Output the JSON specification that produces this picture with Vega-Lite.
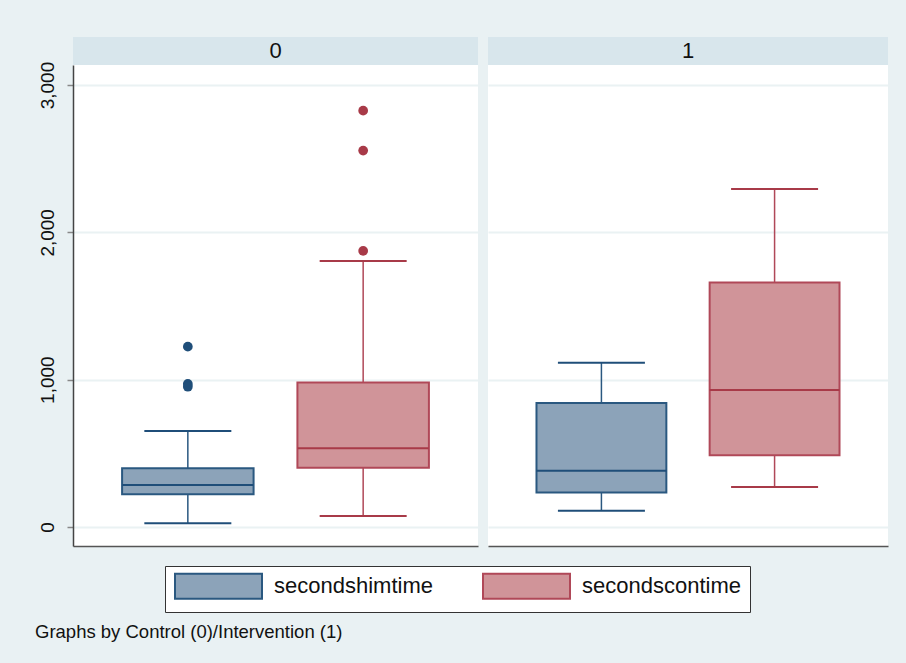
{
  "$schema": "https://vega.github.io/schema/vega-lite/v6.json",
  "background": "#E9F1F3",
  "padding": {"left": 35, "top": 37, "right": 18, "bottom": 22},
  "datasets": {
    "boxes": [
      {"panel": "0", "var": "secondshimtime", "lower": 25, "q1": 222, "median": 285, "q3": 398, "upper": 652},
      {"panel": "0", "var": "secondscontime", "lower": 75, "q1": 403, "median": 534, "q3": 980, "upper": 1806},
      {"panel": "1", "var": "secondshimtime", "lower": 111, "q1": 235, "median": 382, "q3": 842, "upper": 1115},
      {"panel": "1", "var": "secondscontime", "lower": 272, "q1": 487, "median": 930, "q3": 1659, "upper": 2295}
    ],
    "outliers": [
      {"panel": "0", "var": "secondshimtime", "value": 1224},
      {"panel": "0", "var": "secondshimtime", "value": 971},
      {"panel": "0", "var": "secondshimtime", "value": 952},
      {"panel": "0", "var": "secondscontime", "value": 2826},
      {"panel": "0", "var": "secondscontime", "value": 2555},
      {"panel": "0", "var": "secondscontime", "value": 1874}
    ]
  },
  "title": {
    "text": "Graphs by Control (0)/Intervention (1)",
    "orient": "bottom",
    "anchor": "start",
    "frame": "group",
    "fontSize": 18.5,
    "fontWeight": "normal",
    "color": "#111111",
    "offset": 10,
    "dx": -38
  },
  "spacing": 10,
  "hconcat": [
    {
      "spacing": 0,
      "bounds": "flush",
      "vconcat": [
        {
          "data": {"values": [{"panel": "0"}]},
          "width": 405,
          "height": 28,
          "view": {"fill": "#D8E6EC", "stroke": null},
          "mark": {"type": "text", "fontSize": 22, "color": "#111111"},
          "encoding": {"text": {"field": "panel", "type": "nominal"}}
        },
        {
          "width": 405,
          "height": 481,
          "view": {"fill": "white", "stroke": null},
          "encoding": {
            "x": {"field": "var", "type": "nominal", "sort": null,
              "scale": {"domain": ["secondshimtime", "secondscontime"], "paddingInner": 0.25, "paddingOuter": 0.28},
              "axis": {"labels": false, "ticks": false, "title": null, "grid": false, "domain": true, "domainColor": "#555555", "domainWidth": 1.5}}
          },
          "layer": [
            {
              "data": {"name": "boxes"},
              "transform": [{"filter": "datum.panel == '0'"}],
              "mark": {"type": "rule", "strokeWidth": 1.5},
              "encoding": {
                "y": {"field": "lower", "type": "quantitative", "scale": {"domain": [-129, 3136], "nice": false, "zero": false},
                  "axis": {"title": null, "values": [0, 1000, 2000, 3000], "format": ",d", "labelAngle": -90, "labelAlign": "center", "labelBaseline": "alphabetic", "labelPadding": 14, "labelFontSize": 19, "labelColor": "#111111", "tickSize": 6, "tickColor": "#888888", "tickWidth": 1.5, "grid": true, "gridColor": "#EAF2F3", "gridWidth": 2, "domainColor": "#444444", "domainWidth": 1.5}},
                "y2": {"field": "upper"},
                "stroke": {"field": "var", "type": "nominal", "scale": {"domain": ["secondshimtime", "secondscontime"], "range": ["#2A5880", "#B04858"]}, "legend": {"title": null}}
              }
            },
            {
              "data": {"name": "boxes"},
              "transform": [{"filter": "datum.panel == '0'"}],
              "mark": {"type": "bar", "strokeWidth": 2, "opacity": 1},
              "encoding": {
                "y": {"field": "q1", "type": "quantitative", "scale": {"domain": [-129, 3136], "nice": false, "zero": false},
                  "axis": {"title": null, "values": [0, 1000, 2000, 3000], "format": ",d", "labelAngle": -90, "labelAlign": "center", "labelBaseline": "alphabetic", "labelPadding": 14, "labelFontSize": 19, "labelColor": "#111111", "tickSize": 6, "tickColor": "#888888", "tickWidth": 1.5, "grid": true, "gridColor": "#EAF2F3", "gridWidth": 2, "domainColor": "#444444", "domainWidth": 1.5}},
                "y2": {"field": "q3"},
                "fill": {"field": "var", "type": "nominal", "scale": {"domain": ["secondshimtime", "secondscontime"], "range": ["#8CA3B9", "#D09499"]}, "legend": {"title": null}},
                "stroke": {"field": "var", "type": "nominal", "scale": {"domain": ["secondshimtime", "secondscontime"], "range": ["#2A5880", "#B04858"]}, "legend": {"title": null}}
              }
            },
            {
              "data": {"name": "boxes"},
              "transform": [{"filter": "datum.panel == '0'"}],
              "mark": {"type": "tick", "thickness": 2, "size": 131, "opacity": 1},
              "encoding": {
                "y": {"field": "median", "type": "quantitative", "scale": {"domain": [-129, 3136], "nice": false, "zero": false},
                  "axis": {"title": null, "values": [0, 1000, 2000, 3000], "format": ",d", "labelAngle": -90, "labelAlign": "center", "labelBaseline": "alphabetic", "labelPadding": 14, "labelFontSize": 19, "labelColor": "#111111", "tickSize": 6, "tickColor": "#888888", "tickWidth": 1.5, "grid": true, "gridColor": "#EAF2F3", "gridWidth": 2, "domainColor": "#444444", "domainWidth": 1.5}},
                "color": {"field": "var", "type": "nominal", "scale": {"domain": ["secondshimtime", "secondscontime"], "range": ["#1F4E79", "#A83A48"]}, "legend": null}
              }
            },
            {
              "data": {"name": "boxes"},
              "transform": [{"filter": "datum.panel == '0'"}],
              "mark": {"type": "tick", "thickness": 2, "size": 87, "opacity": 1},
              "encoding": {
                "y": {"field": "lower", "type": "quantitative", "scale": {"domain": [-129, 3136], "nice": false, "zero": false},
                  "axis": {"title": null, "values": [0, 1000, 2000, 3000], "format": ",d", "labelAngle": -90, "labelAlign": "center", "labelBaseline": "alphabetic", "labelPadding": 14, "labelFontSize": 19, "labelColor": "#111111", "tickSize": 6, "tickColor": "#888888", "tickWidth": 1.5, "grid": true, "gridColor": "#EAF2F3", "gridWidth": 2, "domainColor": "#444444", "domainWidth": 1.5}},
                "color": {"field": "var", "type": "nominal", "scale": {"domain": ["secondshimtime", "secondscontime"], "range": ["#1F4E79", "#A83A48"]}, "legend": null}
              }
            },
            {
              "data": {"name": "boxes"},
              "transform": [{"filter": "datum.panel == '0'"}],
              "mark": {"type": "tick", "thickness": 2, "size": 87, "opacity": 1},
              "encoding": {
                "y": {"field": "upper", "type": "quantitative", "scale": {"domain": [-129, 3136], "nice": false, "zero": false},
                  "axis": {"title": null, "values": [0, 1000, 2000, 3000], "format": ",d", "labelAngle": -90, "labelAlign": "center", "labelBaseline": "alphabetic", "labelPadding": 14, "labelFontSize": 19, "labelColor": "#111111", "tickSize": 6, "tickColor": "#888888", "tickWidth": 1.5, "grid": true, "gridColor": "#EAF2F3", "gridWidth": 2, "domainColor": "#444444", "domainWidth": 1.5}},
                "color": {"field": "var", "type": "nominal", "scale": {"domain": ["secondshimtime", "secondscontime"], "range": ["#1F4E79", "#A83A48"]}, "legend": null}
              }
            },
            {
              "data": {"name": "outliers"},
              "transform": [{"filter": "datum.panel == '0'"}],
              "mark": {"type": "point", "filled": true, "size": 95, "opacity": 1},
              "encoding": {
                "y": {"field": "value", "type": "quantitative", "scale": {"domain": [-129, 3136], "nice": false, "zero": false},
                  "axis": {"title": null, "values": [0, 1000, 2000, 3000], "format": ",d", "labelAngle": -90, "labelAlign": "center", "labelBaseline": "alphabetic", "labelPadding": 14, "labelFontSize": 19, "labelColor": "#111111", "tickSize": 6, "tickColor": "#888888", "tickWidth": 1.5, "grid": true, "gridColor": "#EAF2F3", "gridWidth": 2, "domainColor": "#444444", "domainWidth": 1.5}},
                "color": {"field": "var", "type": "nominal", "scale": {"domain": ["secondshimtime", "secondscontime"], "range": ["#1A476F", "#9E2236"]}, "legend": null}
              }
            }
          ]
        }
      ]
    },
    {
      "spacing": 0,
      "bounds": "flush",
      "vconcat": [
        {
          "data": {"values": [{"panel": "1"}]},
          "width": 400,
          "height": 28,
          "view": {"fill": "#D8E6EC", "stroke": null},
          "mark": {"type": "text", "fontSize": 22, "color": "#111111"},
          "encoding": {"text": {"field": "panel", "type": "nominal"}}
        },
        {
          "width": 400,
          "height": 481,
          "view": {"fill": "white", "stroke": null},
          "encoding": {
            "x": {"field": "var", "type": "nominal", "sort": null,
              "scale": {"domain": ["secondshimtime", "secondscontime"], "paddingInner": 0.25, "paddingOuter": 0.28},
              "axis": {"labels": false, "ticks": false, "title": null, "grid": false, "domain": true, "domainColor": "#555555", "domainWidth": 1.5}}
          },
          "layer": [
            {
              "data": {"name": "boxes"},
              "transform": [{"filter": "datum.panel == '1'"}],
              "mark": {"type": "rule", "strokeWidth": 1.5},
              "encoding": {
                "y": {"field": "lower", "type": "quantitative", "scale": {"domain": [-129, 3136], "nice": false, "zero": false},
                  "axis": {"title": null, "values": [0, 1000, 2000, 3000], "labels": false, "ticks": false, "domain": false, "grid": true, "gridColor": "#EAF2F3", "gridWidth": 2}},
                "y2": {"field": "upper"},
                "stroke": {"field": "var", "type": "nominal", "scale": {"domain": ["secondshimtime", "secondscontime"], "range": ["#2A5880", "#B04858"]}, "legend": {"title": null}}
              }
            },
            {
              "data": {"name": "boxes"},
              "transform": [{"filter": "datum.panel == '1'"}],
              "mark": {"type": "bar", "strokeWidth": 2, "opacity": 1},
              "encoding": {
                "y": {"field": "q1", "type": "quantitative", "scale": {"domain": [-129, 3136], "nice": false, "zero": false},
                  "axis": {"title": null, "values": [0, 1000, 2000, 3000], "labels": false, "ticks": false, "domain": false, "grid": true, "gridColor": "#EAF2F3", "gridWidth": 2}},
                "y2": {"field": "q3"},
                "fill": {"field": "var", "type": "nominal", "scale": {"domain": ["secondshimtime", "secondscontime"], "range": ["#8CA3B9", "#D09499"]}, "legend": {"title": null}},
                "stroke": {"field": "var", "type": "nominal", "scale": {"domain": ["secondshimtime", "secondscontime"], "range": ["#2A5880", "#B04858"]}, "legend": {"title": null}}
              }
            },
            {
              "data": {"name": "boxes"},
              "transform": [{"filter": "datum.panel == '1'"}],
              "mark": {"type": "tick", "thickness": 2, "size": 130, "opacity": 1},
              "encoding": {
                "y": {"field": "median", "type": "quantitative", "scale": {"domain": [-129, 3136], "nice": false, "zero": false},
                  "axis": {"title": null, "values": [0, 1000, 2000, 3000], "labels": false, "ticks": false, "domain": false, "grid": true, "gridColor": "#EAF2F3", "gridWidth": 2}},
                "color": {"field": "var", "type": "nominal", "scale": {"domain": ["secondshimtime", "secondscontime"], "range": ["#1F4E79", "#A83A48"]}, "legend": null}
              }
            },
            {
              "data": {"name": "boxes"},
              "transform": [{"filter": "datum.panel == '1'"}],
              "mark": {"type": "tick", "thickness": 2, "size": 87, "opacity": 1},
              "encoding": {
                "y": {"field": "lower", "type": "quantitative", "scale": {"domain": [-129, 3136], "nice": false, "zero": false},
                  "axis": {"title": null, "values": [0, 1000, 2000, 3000], "labels": false, "ticks": false, "domain": false, "grid": true, "gridColor": "#EAF2F3", "gridWidth": 2}},
                "color": {"field": "var", "type": "nominal", "scale": {"domain": ["secondshimtime", "secondscontime"], "range": ["#1F4E79", "#A83A48"]}, "legend": null}
              }
            },
            {
              "data": {"name": "boxes"},
              "transform": [{"filter": "datum.panel == '1'"}],
              "mark": {"type": "tick", "thickness": 2, "size": 87, "opacity": 1},
              "encoding": {
                "y": {"field": "upper", "type": "quantitative", "scale": {"domain": [-129, 3136], "nice": false, "zero": false},
                  "axis": {"title": null, "values": [0, 1000, 2000, 3000], "labels": false, "ticks": false, "domain": false, "grid": true, "gridColor": "#EAF2F3", "gridWidth": 2}},
                "color": {"field": "var", "type": "nominal", "scale": {"domain": ["secondshimtime", "secondscontime"], "range": ["#1F4E79", "#A83A48"]}, "legend": null}
              }
            }
          ]
        }
      ]
    }
  ],
  "config": {
    "font": "Liberation Sans",
    "view": {"stroke": null},
    "legend": {
      "orient": "none",
      "legendX": 92,
      "legendY": 529,
      "direction": "horizontal",
      "fillColor": "white",
      "strokeColor": "#333333",
      "padding": 9,
      "columnPadding": 46,
      "symbolType": "M-1,-1.25H7.7V1.25H-1Z",
      "symbolSize": 400,
      "symbolStrokeWidth": 2,
      "symbolOpacity": 1,
      "labelFontSize": 22,
      "labelColor": "#111111",
      "labelOffset": 78,
      "labelLimit": 400
    }
  }
}
